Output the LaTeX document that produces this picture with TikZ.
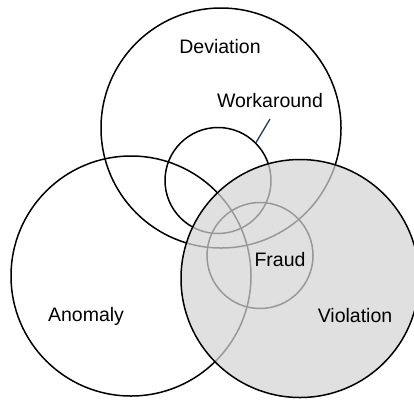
\documentclass[tikz,border=0pt]{standalone}
\usepackage{fontspec}
\setmainfont{Liberation Sans}
\begin{document}
\begin{tikzpicture}[x=1pt,y=-1pt,
  ring/.style={circle,draw=black,line width=1.5pt,inner sep=0pt},
  lbl/.style={font=\fontsize{19.5}{23}\selectfont,inner sep=0pt}]
\useasboundingbox (0,0) rectangle (414,400);
\clip (0,0) rectangle (414,400);
\node[ring,minimum size=240pt] (dev) at (221,128) {};
\node[ring,minimum size=240pt] (ano) at (131,276) {};
\node[ring,minimum size=106pt] (wk) at (218,180.5) {};
\node[ring,minimum size=106pt] (fr) at (260,255.5) {};
\fill[fill={rgb,255:red,212;green,212;blue,212},fill opacity=0.72] (300,278.5) circle (119pt);
\node[ring,minimum size=238pt] (vio) at (300,278.5) {};
\node[lbl] (tdev) at (220,47) {Deviation};
\node[lbl] (twk) at (270,101) {Workaround};
\node[lbl] (tfr) at (280,260) {Fraud};
\node[lbl] (tano) at (86,316) {Anomaly};
\node[lbl] (tvio) at (355,316) {Violation};
\coordinate (wkend) at (270,119);
\draw[line width=1.3pt,color={rgb,255:red,31;green,56;blue,100}] (wkend) -- (wk.45);
\end{tikzpicture}
\end{document}
